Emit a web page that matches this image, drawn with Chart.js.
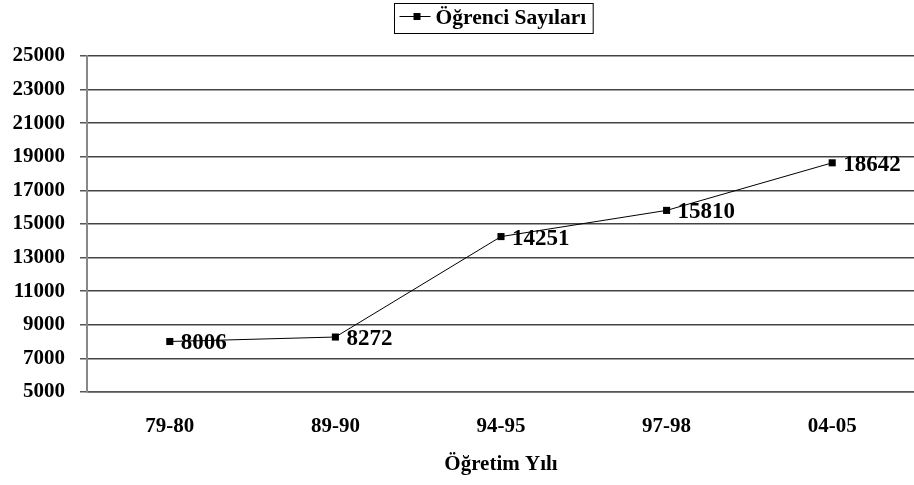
<!DOCTYPE html>
<html lang="tr">
<head>
<meta charset="UTF-8">
<title>Öğrenci Sayıları</title>
<style>
  body{margin:0;background:#fff;overflow:hidden}
  #wrap{width:914px;height:485px;overflow:hidden}
</style>
</head>
<body>
<div id="wrap"><canvas id="c" width="920" height="485"></canvas></div>
<script src="https://cdn.jsdelivr.net/npm/chart.js"></script>
<script>
const years = ['79-80', '89-90', '94-95', '97-98', '04-05']
const students = [8006, 8272, 14251, 15810, 18642]
const seriesName = 'Öğrenci Sayıları'
const xTitle = 'Öğretim Yılı'
const yMin = 5000, yMax = 25000, yStep = 2000

const serif = '"Liberation Serif", "Times New Roman", serif'

// legend box at the top, with line + square marker
const boxLegend = {
  id: 'boxLegend',
  afterDraw(chart) {
    const c = chart.ctx
    c.save()
    c.font = 'bold 21.5px ' + serif
    const tw = c.measureText(seriesName).width
    const w = tw + 48, h = 30
    const x0 = 394.5, y0 = 3.5
    c.strokeStyle = '#000'
    c.lineWidth = 1
    c.strokeRect(x0, y0, w, h)
    c.beginPath()
    c.moveTo(x0 + 5, y0 + 13)
    c.lineTo(x0 + 36, y0 + 13)
    c.stroke()
    c.fillStyle = '#000'
    c.fillRect(x0 + 19, y0 + 9.5, 7, 7)
    c.textBaseline = 'middle'
    c.fillText(seriesName, x0 + 41, y0 + 15)
    c.restore()
  }
}

// value labels to the right of each point
const valueLabels = {
  id: 'valueLabels',
  afterDatasetsDraw(chart) {
    const c = chart.ctx
    const meta = chart.getDatasetMeta(0)
    c.save()
    c.font = 'bold 23px ' + serif
    c.fillStyle = '#000'
    c.textBaseline = 'middle'
    meta.data.forEach((pt, i) => {
      c.fillText(students[i], pt.x + 11, pt.y + 2)
    })
    c.restore()
  }
}

new Chart(document.getElementById('c'), {
  type: 'line',
  data: {
    labels: years,
    datasets: [{
      label: seriesName,
      data: students,
      borderColor: '#000',
      borderWidth: 1,
      backgroundColor: '#000',
      pointStyle: 'rect',
      pointRadius: 5,
      pointBorderWidth: 0,
      tension: 0
    }]
  },
  options: {
    responsive: false,
    animation: false,
    layout: {padding: {top: 56, right: 0, bottom: 0, left: 0}},
    plugins: {legend: {display: false}, tooltip: {enabled: false}},
    scales: {
      x: {
        offset: true,
        grid: {display: false, drawTicks: false},
        border: {display: true, color: '#555', width: 1.5},
        ticks: {color: '#000', padding: 22, font: {family: serif, size: 21, weight: 'bold'}},
        title: {display: true, text: xTitle, color: '#000', padding: {top: 0, bottom: 8},
                font: {family: serif, size: 21, weight: 'bold'}},
        afterFit(s) { s.height = 93 }
      },
      y: {
        min: yMin,
        max: yMax,
        ticks: {stepSize: yStep, color: '#000', padding: 15, callback: v => String(v),
                font: {family: serif, size: 21, weight: 'bold'}},
        grid: {color: '#444', lineWidth: 1.5, tickLength: 7, tickColor: '#555'},
        border: {display: true, color: '#888', width: 2},
        afterFit(s) { s.width = 87 }
      }
    }
  },
  plugins: [boxLegend, valueLabels]
})
</script>
</body>
</html>
